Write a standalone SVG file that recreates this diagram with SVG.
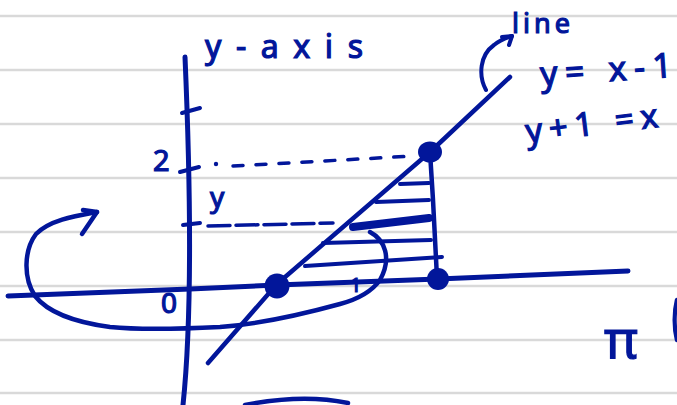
<svg xmlns="http://www.w3.org/2000/svg" width="677" height="405" viewBox="0 0 677 405">
<style>
.rule{stroke:#d9d9d9;stroke-width:2.5;fill:none}
.ink{stroke:#02169a;fill:none;stroke-linecap:round;stroke-linejoin:round}
.dot{fill:#02169a}
.t{font-family:"Noto Sans","Liberation Sans",sans-serif;fill:#02169a;stroke:#02169a;stroke-width:1.2}
</style>
<rect width="677" height="405" fill="#ffffff"/>
<g id="paper">
<line class="rule" x1="0" y1="16" x2="677" y2="16"/>
<line class="rule" x1="0" y1="70" x2="677" y2="70"/>
<line class="rule" x1="0" y1="124" x2="677" y2="124"/>
<line class="rule" x1="0" y1="178" x2="677" y2="178"/>
<line class="rule" x1="0" y1="232" x2="677" y2="232"/>
<line class="rule" x1="0" y1="286" x2="677" y2="286"/>
<line class="rule" x1="0" y1="340" x2="677" y2="340"/>
<line class="rule" x1="0" y1="393" x2="677" y2="393"/>
</g>
<g id="axes" class="ink">
<path d="M185,57 C189,150 194,300 183,405" stroke-width="5"/>
<path d="M8,296 L190,289 L277,285 L438,279 L628,271" stroke-width="5"/>
<path d="M182,113 L200,108" stroke-width="4"/>
<path d="M180,172 L199,167" stroke-width="4"/>
<path d="M183,225 L200,223" stroke-width="4"/>
</g>
<g id="guides" class="ink">
<circle class="dot" cx="216" cy="164" r="2.2" stroke="none"/>
<path d="M233,166 L414,156" stroke-width="3.5" stroke-dasharray="10,13"/>
<path d="M208,226 L333,223" stroke-width="3.5" stroke-dasharray="22,6"/>
</g>
<g id="region" class="ink">
<path d="M208,363 L277,284 L430,152 L510,77" stroke-width="4.5"/>
<path d="M430,152 L433,200 L437,278" stroke-width="4.5"/>
<path d="M400,184 L429,183" stroke-width="4"/>
<path d="M376,202 L429,200" stroke-width="4"/>
<path d="M353,227 L429,218" stroke-width="8"/>
<path d="M323,243 L431,240" stroke-width="4"/>
<path d="M305,266 L442,257" stroke-width="4"/>
</g>
<g id="points">
<circle class="dot" cx="277" cy="286" r="12.5"/>
<ellipse class="dot" cx="430" cy="152" rx="12" ry="10.5"/>
<circle class="dot" cx="438" cy="279" r="11"/>
</g>
<g id="rotation" class="ink">
<path d="M370,232 C385,240 392,258 380,280 C370,294 355,300 340,304 C300,315 260,324 220,327 C180,329 140,330 110,327 C80,323 50,315 35,296 C23,278 24,250 36,234 C50,220 75,216 97,212" stroke-width="4.5"/>
<path d="M83,210 L97,212 L82,234" stroke-width="4.5"/>
</g>
<g id="line-pointer" class="ink">
<path d="M486,90 C478,75 480,55 494,45 C500,40 506,38 512,36" stroke-width="4"/>
<path d="M502,37 L512,36 L509,45" stroke-width="4"/>
</g>
<g id="labels">
<text class="t" x="205" y="58" font-size="32" textLength="158" lengthAdjust="spacing">y-axis</text>
<text class="t" x="512" y="33" font-size="27" textLength="58" lengthAdjust="spacing">line</text>
<text class="t" x="541" y="86" font-size="34" textLength="132" lengthAdjust="spacing" transform="rotate(-4 541 86)">y= x-1</text>
<text class="t" x="527" y="143" font-size="33" textLength="133" lengthAdjust="spacing" transform="rotate(-7 527 143)">y+1 =x</text>
<text class="t" x="153" y="171" font-size="29">2</text>
<text class="t" x="210" y="207" font-size="28">y</text>
<text class="t" x="161" y="313" font-size="28">0</text>
<text class="t" x="350" y="292" font-size="20">1</text>
<text class="t" x="604" y="358" font-size="52">π</text>
</g>
<g id="edge-marks" class="ink">
<path d="M245,405 C280,398 315,396 348,403" stroke-width="4.5"/>
<path d="M677,300 C674,312 674,328 677,340" stroke-width="4.5"/>
</g>
</svg>
